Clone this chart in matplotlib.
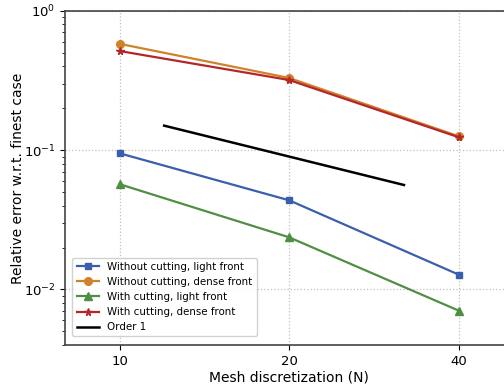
import matplotlib
matplotlib.use("Agg")
import matplotlib.pyplot as plt
from matplotlib.ticker import FixedLocator, NullLocator, FixedFormatter

# mesh sizes and relative errors
meshN = [10, 20, 40]
errNoCutLight = [0.095, 0.0437, 0.0128]
errNoCutDense = [0.58, 0.33, 0.126]
errCutLight = [0.057, 0.0237, 0.00706]
errCutDense = [0.515, 0.319, 0.124]

# order-1 reference slope
orderN = [12, 32]
orderC = 1.8
orderErr = [orderC / n for n in orderN]

fig = plt.figure(figsize=(5.04, 3.88), dpi=100)
ax = fig.add_axes([0.129, 0.111, 0.889, 0.861])

ax.plot(meshN, errNoCutLight, "-s", color="#3a5fad", lw=1.6, ms=5,
        label="Without cutting, light front")
ax.plot(meshN, errNoCutDense, "-o", color="#d0822a", lw=1.6, ms=5.5,
        label="Without cutting, dense front")
ax.plot(meshN, errCutLight, "-^", color="#4f8f43", lw=1.6, ms=5.5,
        label="With cutting, light front")
ax.plot(meshN, errCutDense, "-*", color="#b5262a", lw=1.6, ms=5.5,
        label="With cutting, dense front")
ax.plot(orderN, orderErr, "-", color="black", lw=1.8, label="Order 1")

ax.set_xscale("log")
ax.set_yscale("log")
ax.set_xlim(8, 50)
ax.set_ylim(0.004, 1)

ax.xaxis.set_major_locator(FixedLocator(meshN))
ax.xaxis.set_major_formatter(FixedFormatter([str(n) for n in meshN]))
ax.xaxis.set_minor_locator(NullLocator())

ax.grid(True, which="major", linestyle=":", color="#c0c0c0", lw=0.9)
for s in ax.spines.values():
    s.set_color("#444444")
    s.set_linewidth(1.2)

ax.tick_params(labelsize=9.5)
ax.set_xlabel("Mesh discretization (N)", fontsize=10, labelpad=2)
ax.set_ylabel("Relative error w.r.t. finest case", fontsize=10, labelpad=-1)

ax.legend(loc="lower left", fontsize=7.4, framealpha=0.9,
          handlelength=2.2, borderpad=0.4, labelspacing=0.5,
          bbox_to_anchor=(0.005, 0.01))

fig.savefig("out.png", dpi=100)
